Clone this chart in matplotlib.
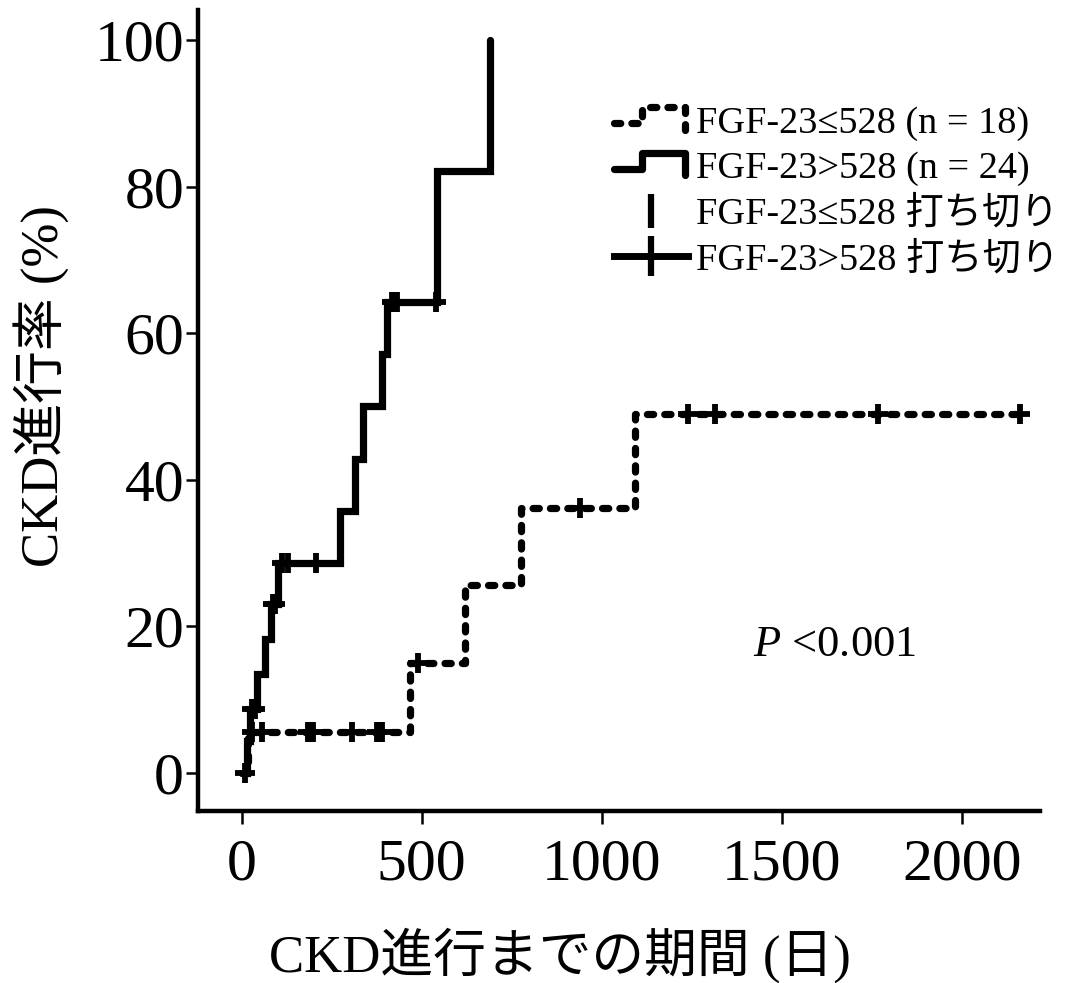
import numpy as np
import matplotlib
matplotlib.use("Agg")
import matplotlib.pyplot as plt
from matplotlib.lines import Line2D
from matplotlib.legend_handler import HandlerBase

plt.rcParams['font.family'] = ['Liberation Serif', 'Noto Sans CJK JP']
plt.rcParams['mathtext.fontset'] = 'custom'
plt.rcParams['mathtext.it'] = 'Liberation Serif:italic'
plt.rcParams['mathtext.rm'] = 'Liberation Serif'
plt.rcParams['lines.scale_dashes'] = False

# FGF-23>528 (n = 24) : 実線
high_event_days = [14, 24, 42, 65, 83, 102, 273, 314, 336, 389, 403, 543, 690]
high_event_pct = [4.3, 8.7, 13.5, 18.3, 23.1, 28.6, 35.7, 42.9, 50.0, 57.1, 64.3, 82.1, 100.0]
high_censor_days = [9, 30, 36, 86, 94, 112, 128, 207, 417, 432, 540]

# FGF-23≤528 (n = 18) : 破線
low_event_days = [18, 469, 620, 776, 1092]
low_event_pct = [5.6, 15.0, 25.6, 36.2, 49.0]
low_censor_days = [29, 57, 184, 198, 306, 376, 390, 490, 940, 1240, 1315, 1768, 2162]
low_last_day = 2162

x_ticks = [0, 500, 1000, 1500, 2000]
y_ticks = [0, 20, 40, 60, 80, 100]

legend_labels = ['FGF-23≤528 (n = 18)', 'FGF-23>528 (n = 24)',
                 'FGF-23≤528 打ち切り', 'FGF-23>528 打ち切り']

DASH = (4.5, 8.0)


def step_value(days, pct, t):
    # 打ち切り時点の累積率を階段関数から読む
    i = np.searchsorted(days, t, side='right')
    return 0.0 if i == 0 else pct[i - 1]


class StepHandler(HandlerBase):
    # 凡例の線を階段状に描く
    def create_artists(self, legend, orig_handle, xdescent, ydescent,
                       width, height, fontsize, trans):
        xs = np.array([0.0, 0.38, 0.38, 0.95, 0.95]) * width - xdescent
        ys = np.array([0.35, 0.35, 0.95, 0.95, 0.1]) * height - ydescent
        line = Line2D(xs, ys)
        self.update_prop(line, orig_handle, legend)
        line.set_transform(trans)
        return [line]


fig = plt.figure(figsize=(10.71, 9.83), dpi=100)
ax = fig.add_axes([198 / 1071, 1 - 811 / 983, 842 / 1071, 801 / 983])

# 実線
hx = [0] + high_event_days
hy = [0] + high_event_pct
ax.plot(hx, hy, drawstyle='steps-post', color='black', lw=5.2,
        solid_capstyle='round', solid_joinstyle='miter')
hcy = [step_value(high_event_days, high_event_pct, t) for t in high_censor_days]
ax.plot(high_censor_days, hcy, ls='none', marker='+', ms=15, mew=4.2, color='black')

# 破線
lx = [0] + low_event_days + [low_last_day]
ly = [0] + low_event_pct + [low_event_pct[-1]]
ax.plot(lx, ly, drawstyle='steps-post', color='black', lw=5.2,
        dashes=DASH, dash_capstyle='round')
lcy = [step_value(low_event_days, low_event_pct, t) for t in low_censor_days]
ax.plot(low_censor_days, lcy, ls='none', marker='+', ms=15, mew=4.2, color='black')

ax.text(1420, 17.5, r'$P$ <0.001', fontsize=32, ha='left', va='center')

ax.set_xlim(-121, 2217)
ax.set_ylim(-5.2, 104.1)
ax.set_xticks(x_ticks)
ax.set_yticks(y_ticks)
for s in ['top', 'right']:
    ax.spines[s].set_visible(False)
for s in ['left', 'bottom']:
    ax.spines[s].set_linewidth(3.2)
ax.tick_params(axis='x', length=9, width=1.8, pad=11, labelsize=43)
ax.tick_params(axis='y', length=9, width=1.8, pad=1, labelsize=43)

ax.set_xlabel('CKD進行までの期間 (日)', fontsize=38)
ax.set_ylabel('CKD進行率 (%)', fontsize=38)
ax.xaxis.set_label_coords(0.43, -0.18)
ax.xaxis.label.set_va('center')
ax.yaxis.set_label_coords(-0.186, 0.53)
ax.yaxis.label.set_va('center')

h1 = Line2D([], [], color='black', lw=5.2, dashes=DASH, dash_capstyle='round')
h2 = Line2D([], [], color='black', lw=5.2, solid_capstyle='round')
h3 = Line2D([], [], ls='none', marker='|', ms=25, mew=4.5, color='black')
h4 = Line2D([], [], color='black', lw=5.0, marker='|', ms=29, mew=4.5)
fig.legend([h1, h2, h3, h4], legend_labels,
           handler_map={h1: StepHandler(), h2: StepHandler()},
           loc='upper left', bbox_to_anchor=(614 / 1071, 1 - 106 / 983),
           frameon=False, fontsize=27.5, handlelength=1.95, handletextpad=0.2,
           labelspacing=0.27, borderpad=0, borderaxespad=0)

fig.savefig('out.png', dpi=100)
